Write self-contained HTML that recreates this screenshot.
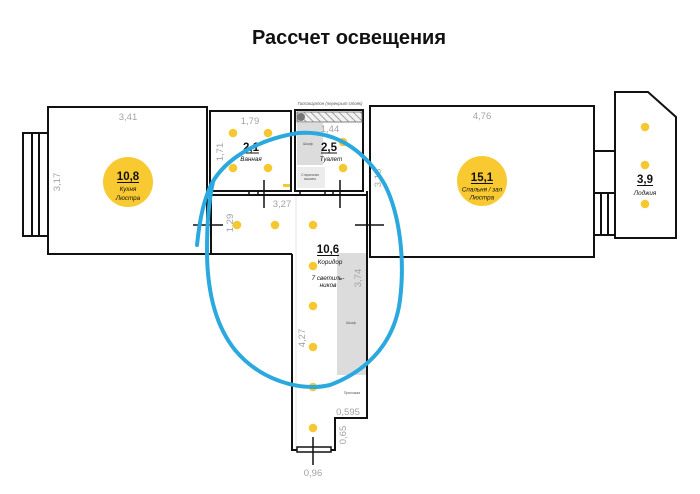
<!DOCTYPE html>
<html>
<head>
<meta charset="utf-8">
<style>
  html,body{margin:0;padding:0;background:#fff;}
  svg{display:block;}
  text{font-family:"Liberation Sans","Noto Sans CJK JP",sans-serif;}
</style>
</head>
<body>
<svg width="700" height="494" viewBox="0 0 700 494" xmlns="http://www.w3.org/2000/svg">
  <defs>
    <pattern id="hatch" width="5" height="5" patternUnits="userSpaceOnUse" patternTransform="rotate(-45)">
      <rect width="5" height="5" fill="#f2f2f2"/>
      <line x1="0" y1="0" x2="0" y2="5" stroke="#8a8a8a" stroke-width="1.6"/>
    </pattern>
  </defs>
  <rect width="700" height="494" fill="#fff"/>

  <!-- Title -->
  <text x="349" y="44" font-size="20" font-weight="bold" text-anchor="middle" fill="#111">Рассчет освещения</text>

  <g fill="none" stroke="#111" stroke-width="2">
    <!-- Kitchen -->
    <rect x="48" y="107" width="159" height="147"/>
    <!-- kitchen window -->
    <rect x="23" y="133" width="25" height="103"/>
    <line x1="32" y1="133" x2="32" y2="236"/>
    <line x1="39" y1="133" x2="39" y2="236"/>
    <!-- kitchen bottom extends to corridor -->
    <line x1="207" y1="254" x2="292" y2="254"/>
    <!-- hallway left wall -->
    <line x1="211" y1="191" x2="211" y2="254"/>

    <!-- Bathroom -->
    <rect x="210" y="111" width="81" height="80"/>
    <!-- Toilet -->
    <rect x="295" y="110" width="68" height="81"/>
    <!-- hallway top double wall -->
    <line x1="211" y1="195" x2="367" y2="195"/>

    <!-- Corridor -->
    <polyline points="292,254 292,450 335,450 335,418 367,418 367,191"/>

    <!-- Bedroom -->
    <rect x="370" y="106" width="224" height="151"/>
    <!-- connector bedroom-loggia -->
    <line x1="594" y1="151" x2="615" y2="151"/>
    <line x1="594" y1="193" x2="615" y2="193"/>
    <line x1="594" y1="235" x2="615" y2="235"/>
    <line x1="601" y1="193" x2="601" y2="235"/>
    <line x1="608" y1="193" x2="608" y2="235"/>
    <!-- Loggia -->
    <polygon points="615,92 648,92 676,117 676,238 615,238"/>
  </g>

  <!-- door ticks on double wall -->
  <g stroke="#111" stroke-width="1.5">
    <line x1="249" y1="191" x2="249" y2="195"/>
    <line x1="258" y1="191" x2="258" y2="195"/>
    <line x1="300" y1="191" x2="300" y2="195"/>
    <line x1="325" y1="191" x2="325" y2="195"/>
    <line x1="333" y1="191" x2="333" y2="195"/>
  </g>

  <!-- light partition line in corridor -->
  <line x1="296" y1="196" x2="296" y2="449" stroke="#e6e6e6" stroke-width="1"/>

  <!-- toilet hatch band -->
  <rect x="297" y="112" width="65" height="10" fill="url(#hatch)" stroke="#666" stroke-width="0.8"/>
  <circle cx="301" cy="117" r="4" fill="#777"/>
  <text x="330" y="105" font-size="4.3" font-style="italic" text-anchor="middle" fill="#555">Гипсокартон (перекрыт стояк)</text>

  <!-- toilet furniture -->
  <rect x="297" y="123" width="26" height="42" fill="#dcdcdc"/>
  <text x="308" y="145" font-size="3.5" text-anchor="middle" fill="#555">Шкаф</text>
  <rect x="297" y="167" width="28" height="21" fill="#ececec"/>
  <text x="310" y="176" font-size="3.2" text-anchor="middle" fill="#555">Стиральная</text>
  <text x="310" y="180" font-size="3.2" text-anchor="middle" fill="#555">машина</text>

  <!-- corridor wardrobe -->
  <rect x="337" y="253" width="29" height="122" fill="#dcdcdc"/>
  <text x="351" y="324" font-size="3.5" text-anchor="middle" fill="#555">Шкаф</text>
  <text x="352" y="394" font-size="3.5" text-anchor="middle" fill="#555">Прихожая</text>

  <!-- bottom threshold -->
  <rect x="297" y="447" width="34" height="5" fill="#fff" stroke="#111" stroke-width="1.5"/>

  <!-- door / cross lines -->
  <g stroke="#111" stroke-width="1.5">
    <line x1="193" y1="225" x2="223" y2="225"/>
    <line x1="355" y1="225" x2="384" y2="225"/>
    <line x1="264" y1="180" x2="264" y2="208"/>
    <line x1="340" y1="180" x2="340" y2="208"/>
    <line x1="313" y1="437" x2="313" y2="465"/>
  </g>

  <!-- small yellow mark bathroom -->
  <rect x="283" y="184" width="7" height="3" fill="#f5c830"/>

  <!-- Dimensions -->
  <g font-size="9.5" fill="#a3a3a3" text-anchor="middle">
    <text x="128" y="120">3,41</text>
    <text x="482" y="119">4,76</text>
    <text x="250" y="124">1,79</text>
    <text x="330" y="132">1,44</text>
    <text x="282" y="207">3,27</text>
    <text x="348" y="415">0,595</text>
    <text x="313" y="476">0,96</text>
    <text transform="translate(60,182) rotate(-90)">3,17</text>
    <text transform="translate(223,152) rotate(-90)">1,71</text>
    <text transform="translate(381,178) rotate(-90)">3,18</text>
    <text transform="translate(233,223) rotate(-90)">1,29</text>
    <text transform="translate(361,278) rotate(-90)">3,74</text>
    <text transform="translate(305,338) rotate(-90)">4,27</text>
    <text transform="translate(346,435) rotate(-90)">0,65</text>
  </g>

  <!-- Chandelier circles -->
  <circle cx="128" cy="182" r="25" fill="#f8c931"/>
  <circle cx="482" cy="181" r="25" fill="#f8c931"/>

  <!-- Yellow dots -->
  <g fill="#f5c830">
    <circle cx="233" cy="133" r="4.3"/>
    <circle cx="268" cy="133" r="4.3"/>
    <circle cx="233" cy="168" r="4.3"/>
    <circle cx="268" cy="168" r="4.3"/>
    <circle cx="343" cy="142" r="4.3"/>
    <circle cx="343" cy="168" r="4.3"/>
    <circle cx="237" cy="225" r="4.3"/>
    <circle cx="275" cy="225" r="4.3"/>
    <circle cx="313" cy="225" r="4.3"/>
    <circle cx="313" cy="266" r="4.3"/>
    <circle cx="313" cy="306" r="4.3"/>
    <circle cx="313" cy="347" r="4.3"/>
    <circle cx="313" cy="387" r="4.3"/>
    <circle cx="313" cy="428" r="4.3"/>
    <circle cx="645" cy="127" r="4.3"/>
    <circle cx="645" cy="165" r="4.3"/>
    <circle cx="645" cy="204" r="4.3"/>
  </g>

  <!-- Room labels -->
  <g fill="#111" text-anchor="middle">
    <text x="128" y="180" font-size="11.5" font-weight="bold">10,8</text>
    <line x1="117" y1="182.5" x2="139" y2="182.5" stroke="#111" stroke-width="1"/>
    <text x="128" y="191" font-size="6.3" font-style="italic">Кухня</text>
    <text x="128" y="200" font-size="6.3" font-style="italic">Люстра</text>

    <text x="482" y="181" font-size="11.5" font-weight="bold">15,1</text>
    <line x1="471" y1="183.5" x2="493" y2="183.5" stroke="#111" stroke-width="1"/>
    <text x="482" y="191.5" font-size="6.3" font-style="italic">Спальня / зал</text>
    <text x="482" y="199.5" font-size="6.3" font-style="italic">Люстра</text>

    <text x="251" y="151" font-size="11.5" font-weight="bold">2,1</text>
    <line x1="243" y1="153" x2="259" y2="153" stroke="#111" stroke-width="1"/>
    <text x="251" y="161" font-size="6.3" font-style="italic">Ванная</text>

    <text x="329" y="151" font-size="11.5" font-weight="bold">2,5</text>
    <line x1="321" y1="153" x2="337" y2="153" stroke="#111" stroke-width="1"/>
    <text x="331" y="161" font-size="6.3" font-style="italic">Туалет</text>

    <text x="328" y="253" font-size="11.5" font-weight="bold">10,6</text>
    <line x1="317" y1="255.5" x2="339" y2="255.5" stroke="#111" stroke-width="1"/>
    <text x="330" y="264" font-size="6.3" font-style="italic">Коридор</text>
    <text x="328" y="280" font-size="6.3" font-style="italic">7 светиль-</text>
    <text x="328" y="287" font-size="6.3" font-style="italic">ников</text>

    <text x="645" y="183" font-size="11.5" font-weight="bold">3,9</text>
    <line x1="637" y1="185.5" x2="653" y2="185.5" stroke="#111" stroke-width="1"/>
    <text x="645" y="195" font-size="6.3" font-style="italic">Лоджия</text>
  </g>

  <!-- Blue hand-drawn loop -->
  <path d="M197,245 C199,225 203,200 212,183 C225,160 255,140 298,133 C335,130 365,150 385,185 C400,215 405,260 400,300 C395,340 370,370 330,385 C300,392 260,380 235,350 C215,325 207,290 207,250 C207,225 209,200 213,182"
        fill="none" stroke="#2ba9de" stroke-width="4" stroke-linecap="round" stroke-linejoin="round"/>
</svg>
</body>
</html>
